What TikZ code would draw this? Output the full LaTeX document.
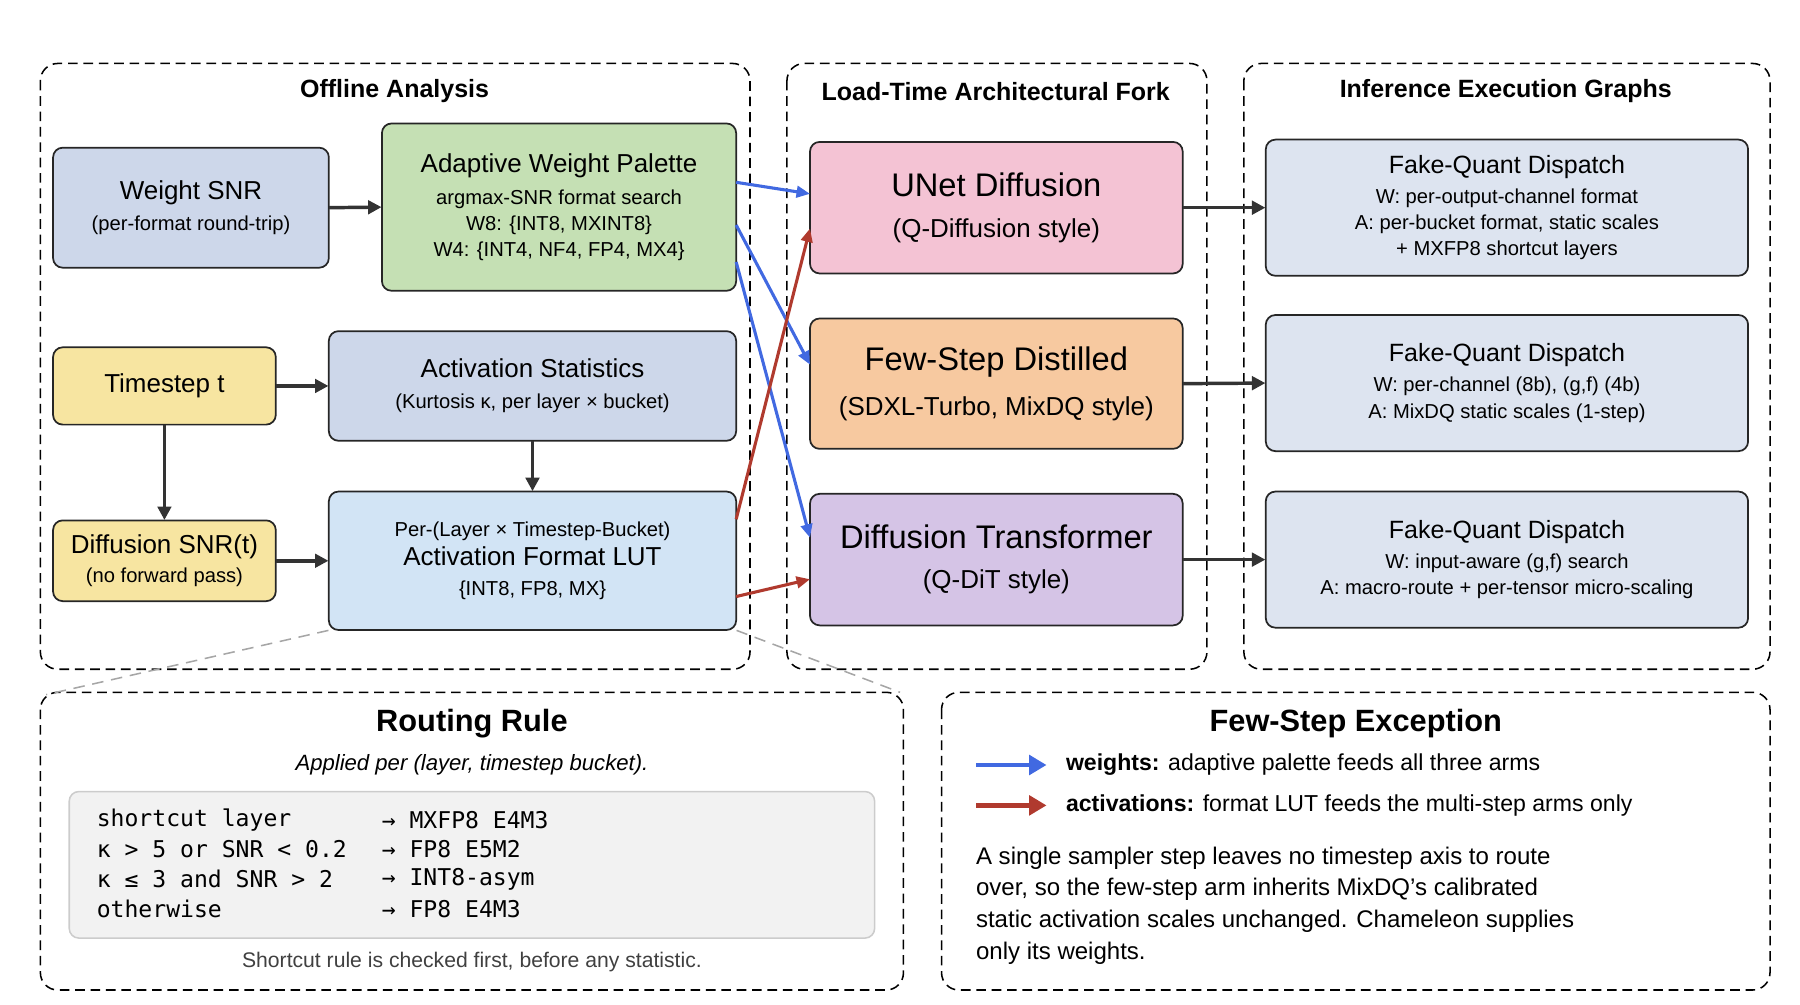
\documentclass[tikz,border=0pt]{standalone}
\usepackage{fontspec}
\setmainfont{Liberation Sans}
\setmonofont{DejaVu Sans Mono}
\usetikzlibrary{arrows.meta}
\definecolor{cslate}{HTML}{CDD7EA}
\definecolor{cgreen}{HTML}{C5E0B4}
\definecolor{cyel}{HTML}{F7E5A1}
\definecolor{clight}{HTML}{D2E4F5}
\definecolor{cpink}{HTML}{F4C3D4}
\definecolor{corange}{HTML}{F7C9A0}
\definecolor{cpurp}{HTML}{D5C4E6}
\definecolor{cfq}{HTML}{DDE4F0}
\definecolor{cblue}{HTML}{4169E1}
\definecolor{cred}{HTML}{B03A2E}
\newcommand{\fs}[1]{\fontsize{#1}{\dimexpr #1*130/100\relax}\selectfont}
\newcommand{\fsp}[1]{\fontsize{#1}{\dimexpr #1*132/100\relax}\selectfont}
\begin{document}
\begin{tikzpicture}[x=0.6pt,y=-0.6pt,
  grp/.style={draw,dashed,line width=0.8pt,rounded corners=9pt,dash pattern=on 5pt off 3pt},
  box/.style={draw=black!85,line width=0.9pt,rounded corners=5pt,align=center},
  karr/.style={draw=black!80,line width=1.8pt,-{Triangle[length=7pt,width=7pt]}},
  barr/.style={draw=cblue,line width=1.6pt,-{Triangle[length=7pt,width=6pt]}},
  rarr/.style={draw=cred,line width=1.6pt,-{Triangle[length=7pt,width=6pt]}},
  ttl/.style={font=\bfseries\fs{13pt}},
  big/.style={font=\fs{13.5pt}}]
\useasboundingbox (0,0) rectangle (1560,871);
% groups
\draw[grp] (35,55) rectangle (650,580);
\draw[grp] (682,55) rectangle (1046,580);
\draw[grp] (1078,55) rectangle (1534,580);
\draw[grp] (35,600) rectangle (783,858);
\draw[grp] (816,600) rectangle (1534,858);
\node[ttl] (t1) at (342,79) {Offline Analysis};
\node[ttl] (t2) at (863,79) {Load-Time Architectural Fork};
\node[ttl] (t3) at (1305,79) {Inference Execution Graphs};
% offline nodes
\path[box,fill=cslate] (46,128) rectangle (285,232);
\node (wsnr) at (165.5,180) [minimum width=239*0.6pt,minimum height=104*0.6pt] {};
\node[align=center] at (165.5,180) {{\fs{13.5pt}Weight SNR}\\[4pt]{\fs{10.5pt}(per-format round-trip)}};
\path[box,fill=cgreen] (331,107) rectangle (638,252);
\node (awp) at (484.5,179.5) [minimum width=307*0.6pt,minimum height=145*0.6pt] {};
\node[align=center,font=\fs{10.5pt}] at (484.5,179.5) {{\fs{13.5pt}Adaptive Weight Palette}\\[3pt]argmax-SNR format search\\W8: \{INT8, MXINT8\}\\W4: \{INT4, NF4, FP4, MX4\}};
\path[box,fill=cyel] (46,301) rectangle (239,368);
\node (ts) at (142.5,334.5) [minimum width=193*0.6pt,minimum height=67*0.6pt] {};
\node[big] at (142.5,334.5) {Timestep t};
\path[box,fill=cslate] (285,287) rectangle (638,382);
\node (ast) at (461.5,334.5) [minimum width=353*0.6pt,minimum height=95*0.6pt] {};
\node[align=center] at (461.5,334.5) {{\fs{13.5pt}Activation Statistics}\\[4pt]{\fs{10.5pt}(Kurtosis κ, per layer × bucket)}};
\path[box,fill=cyel] (46,451) rectangle (239,521);
\node (dsnr) at (142.5,486) [minimum width=193*0.6pt,minimum height=70*0.6pt] {};
\node[align=center] at (142.5,486) {{\fs{13.5pt}Diffusion SNR(t)}\\[3pt]{\fs{10.5pt}(no forward pass)}};
\path[box,fill=clight] (285,426) rectangle (638,546);
\node (lut) at (461.5,486) [minimum width=353*0.6pt,minimum height=120*0.6pt] {};
\node[align=center] at (461.5,486) {{\fs{10.5pt}Per-(Layer × Timestep-Bucket)}\\[3pt]{\fs{13.5pt}Activation Format LUT}\\[4pt]{\fs{10.5pt}\{INT8, FP8, MX\}}};
% arch nodes
\path[box,fill=cpink] (702,123) rectangle (1025,237);
\node (unet) at (863.5,180) [minimum width=323*0.6pt,minimum height=114*0.6pt] {};
\node[align=center] at (863.5,180) {{\fs{17pt}UNet Diffusion}\\[9pt]{\fs{13.5pt}(Q-Diffusion style)}};
\path[box,fill=corange] (702,276) rectangle (1025,389);
\node (few) at (863.5,332.5) [minimum width=323*0.6pt,minimum height=113*0.6pt] {};
\node[align=center] at (863.5,332.5) {{\fs{17pt}Few-Step Distilled}\\[9pt]{\fs{13.5pt}(SDXL-Turbo, MixDQ style)}};
\path[box,fill=cpurp] (702,428) rectangle (1025,542);
\node (dit) at (863.5,485) [minimum width=323*0.6pt,minimum height=114*0.6pt] {};
\node[align=center] at (863.5,485) {{\fs{17pt}Diffusion Transformer}\\[9pt]{\fs{13.5pt}(Q-DiT style)}};
% fq nodes
\path[box,fill=cfq] (1097,121) rectangle (1515,239);
\node (fq1) at (1306,180) [minimum width=418*0.6pt,minimum height=118*0.6pt] {};
\node[align=center,font=\fs{10.5pt}] at (1306,180) {{\fs{13pt}Fake-Quant Dispatch}\\[2pt]W: per-output-channel format\\A: per-bucket format, static scales\\+ MXFP8 shortcut layers};
\path[box,fill=cfq] (1097,273) rectangle (1515,391);
\node (fq2) at (1306,332) [minimum width=418*0.6pt,minimum height=118*0.6pt] {};
\node[align=center,font=\fs{10.5pt}] at (1306,332) {{\fs{13pt}Fake-Quant Dispatch}\\[2pt]W: per-channel (8b), (g,f) (4b)\\A: MixDQ static scales (1-step)};
\path[box,fill=cfq] (1097,426) rectangle (1515,544);
\node (fq3) at (1306,485) [minimum width=418*0.6pt,minimum height=118*0.6pt] {};
\node[align=center,font=\fs{10.5pt}] at (1306,485) {{\fs{13pt}Fake-Quant Dispatch}\\[2pt]W: input-aware (g,f) search\\A: macro-route + per-tensor micro-scaling};
% black arrows
\draw[karr] (wsnr.east) -- (awp.west);
\draw[karr] (ts.east) -- (ast.west);
\draw[karr] (ts.south) -- (dsnr.north);
\draw[karr] (ast.south) -- (lut.north);
\draw[karr] (dsnr.east) -- (lut.west);
\draw[karr] (unet.east) -- (fq1.west);
\draw[karr] (few.east) -- (fq2.west);
\draw[karr] (dit.east) -- (fq3.west);
% colored arrows
\coordinate (a1) at (638,158); \coordinate (a2) at (638,195); \coordinate (a3) at (638,227);
\coordinate (u1) at (702,168); \coordinate (f1) at (702,316); \coordinate (d1) at (702,466);
\coordinate (l1) at (638,450); \coordinate (l2) at (638,517);
\coordinate (u2) at (702,198); \coordinate (d2) at (702,502);
\draw[barr] (a1) -- (u1);
\draw[barr] (a2) -- (f1);
\draw[barr] (a3) -- (d1);
\draw[rarr] (l1) -- (u2);
\draw[rarr] (l2) -- (d2);
% zoom lines
\coordinate (z1) at (40,602); \coordinate (z2) at (780,600);
\draw[gray!70,dashed,line width=0.8pt,dash pattern=on 6pt off 4pt] (lut.south west) -- (z1);
\draw[gray!70,dashed,line width=0.8pt,dash pattern=on 6pt off 4pt] (lut.south east) -- (z2);
% routing rule
\node[font=\bfseries\fs{16pt}] (rt) at (409,627) {Routing Rule};
\node[font=\itshape\fs{11.5pt}] (rs) at (409,663) {Applied per (layer, timestep bucket).};
\draw[gray!40,fill=black!5,line width=0.8pt,rounded corners=5pt] (60,686) rectangle (758,813);
\foreach \y/\a/\b in {711/shortcut layer/MXFP8 E4M3,736/κ > 5 or SNR < 0.2/FP8 E5M2,762/κ ≤ 3 and SNR > 2/INT8-asym,788/otherwise/FP8 E4M3}{
  \node[anchor=west,font=\ttfamily\fs{12pt}] at (78,\y) {\a};
  \node[anchor=west,font=\ttfamily\fs{12pt}] at (325,\y) {→ \b};
}
\node[font=\fs{11pt},text=black!75] (rf) at (409,834) {Shortcut rule is checked first, before any statistic.};
% few-step exception
\node[font=\bfseries\fs{16pt}] (ft) at (1175,627) {Few-Step Exception};
\coordinate (lb1) at (846,663); \coordinate (lb2) at (907,663);
\coordinate (lr1) at (846,698); \coordinate (lr2) at (907,698);
\draw[draw=cblue,line width=2.4pt,-{Triangle[length=9pt,width=10pt]}] (lb1) -- (lb2);
\draw[draw=cred,line width=2.4pt,-{Triangle[length=9pt,width=10pt]}] (lr1) -- (lr2);
\node[anchor=west,font=\fs{12pt}] (lt1) at (918,663) {\textbf{weights:} adaptive palette feeds all three arms};
\node[anchor=west,font=\fs{12pt}] (lt2) at (918,698) {\textbf{activations:} format LUT feeds the multi-step arms only};
\node[anchor=north west,align=left,font=\fsp{12.5pt}] (para) at (840,728) {A single sampler step leaves no timestep axis to route\\over, so the few-step arm inherits MixDQ's calibrated\\static activation scales unchanged. Chameleon supplies\\only its weights.};
\end{tikzpicture}
\end{document}
